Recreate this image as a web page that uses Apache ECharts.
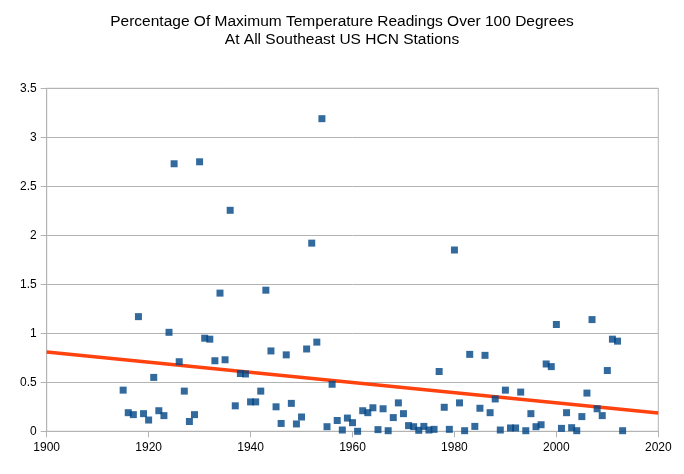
<!DOCTYPE html>
<html><head><meta charset="utf-8">
<script src="https://cdn.jsdelivr.net/npm/echarts@6/dist/echarts.min.js"></script>
<style>html,body{margin:0;padding:0;background:#fff}#c{width:684px;height:474px}</style>
</head><body><div id="c"></div>
<script>
var years = [1915,1916,1917,1918,1919,1920,1921,1922,1923,1924,1925,1926,1927,1928,1929,1930,1931,1932,1933,1934,1935,1936,1937,1938,1939,1940,1941,1942,1943,1944,1945,1946,1947,1948,1949,1950,1951,1952,1953,1954,1955,1956,1957,1958,1959,1960,1961,1962,1963,1964,1965,1966,1967,1968,1969,1970,1971,1972,1973,1974,1975,1976,1977,1978,1979,1980,1981,1982,1983,1984,1985,1986,1987,1988,1989,1990,1991,1992,1993,1994,1995,1996,1997,1998,1999,2000,2001,2002,2003,2004,2005,2006,2007,2008,2009,2010,2011,2012,2013];
var percent = [0.42,0.19,0.17,1.17,0.18,0.115,0.55,0.21,0.16,1.01,2.73,0.71,0.41,0.10,0.17,2.75,0.95,0.94,0.72,1.41,0.73,2.255,0.26,0.59,0.585,0.30,0.30,0.41,1.44,0.82,0.25,0.08,0.78,0.285,0.075,0.146,0.84,1.92,0.91,3.19,0.047,0.48,0.11,0.013,0.135,0.088,0.0,0.21,0.19,0.24,0.017,0.23,0.006,0.14,0.29,0.18,0.058,0.047,0.01,0.05,0.013,0.02,0.61,0.245,0.02,1.85,0.29,0.006,0.785,0.05,0.235,0.775,0.19,0.33,0.013,0.42,0.034,0.034,0.40,0.006,0.18,0.047,0.067,0.687,0.66,1.09,0.03,0.19,0.037,0.006,0.15,0.39,1.14,0.23,0.16,0.62,0.94,0.92,0.006];
var trendYears = [1900, 2020];
var trendValues = [0.81, 0.187];
var xTicks = [1900,1920,1940,1960,1980,2000,2020];
var yTicks = [0,0.5,1,1.5,2,2.5,3,3.5];

var chart = echarts.init(document.getElementById('c'), null, {renderer:'canvas'});
chart.setOption({
  animation:false,
  backgroundColor:'#ffffff',
  title:{
    text:'Percentage Of Maximum Temperature Readings Over 100 Degrees\nAt All Southeast US HCN Stations',
    left:'center', top:7,
    textStyle:{fontFamily:'Liberation Sans', fontSize:15.5, fontWeight:'normal', color:'#000', lineHeight:18.5}
  },
  grid:{left:46.7, right:25.7, top:88.3, bottom:42.7, show:true, borderColor:'#b3b3b3', borderWidth:1, backgroundColor:'transparent'},
  xAxis:{
    type:'value', min:xTicks[0], max:xTicks[xTicks.length-1], interval:20,
    axisLine:{show:true, onZero:false, lineStyle:{color:'#b3b3b3', width:1}},
    axisTick:{show:true, length:6, lineStyle:{color:'#b3b3b3'}},
    splitLine:{show:false},
    axisLabel:{color:'#000', fontFamily:'Liberation Sans', fontSize:12, margin:10,
      formatter:function(v){return String(v);}}
  },
  yAxis:{
    type:'value', min:yTicks[0], max:yTicks[yTicks.length-1], interval:0.5,
    axisLine:{show:true, lineStyle:{color:'#b3b3b3', width:1}},
    axisTick:{show:true, length:6, lineStyle:{color:'#b3b3b3'}},
    splitLine:{show:true, lineStyle:{color:'#b3b3b3', width:1}},
    axisLabel:{color:'#000', fontFamily:'Liberation Sans', fontSize:12, margin:10,
      formatter:function(v){return String(v);}}
  },
  series:[
    {
      type:'line', data:trendYears.map(function(y,i){return [y, trendValues[i]];}),
      showSymbol:false, symbol:'none', lineStyle:{color:'#ff420e', width:3.5}, z:2, silent:true
    },
    {
      type:'scatter', data:years.map(function(y,i){return [y, percent[i]];}),
      symbol:'rect', symbolSize:7, itemStyle:{color:'#004586'}, z:3
    }
  ]
});
</script></body></html>
